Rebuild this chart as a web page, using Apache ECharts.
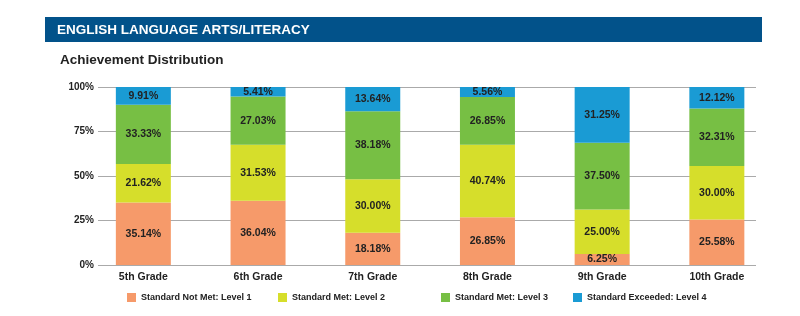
<!DOCTYPE html>
<html>
<head>
<meta charset="utf-8">
<script src="https://cdn.jsdelivr.net/npm/echarts@6/dist/echarts.min.js"></script>
<style>
html,body{margin:0;padding:0;background:#fff;}
#chart{width:800px;height:316px;}
</style>
</head>
<body>
<div id="chart"></div>
<script>
const categories = ['5th Grade', '6th Grade', '7th Grade', '8th Grade', '9th Grade', '10th Grade'];
const seriesNames = ['Standard Not Met: Level 1', 'Standard Met: Level 2', 'Standard Met: Level 3', 'Standard Exceeded: Level 4'];
const level1 = [35.14, 36.04, 18.18, 26.85, 6.25, 25.58];
const level2 = [21.62, 31.53, 30.00, 40.74, 25.00, 30.00];
const level3 = [33.33, 27.03, 38.18, 26.85, 37.50, 32.31];
const level4 = [9.91, 5.41, 13.64, 5.56, 31.25, 12.12];
const yTicks = [0, 25, 50, 75, 100];
const headerText = 'ENGLISH LANGUAGE ARTS/LITERACY';
const subtitleText = 'Achievement Distribution';

const colors = ['#F69A6A', '#D6DE2B', '#77BF44', '#1A9BD4'];
const font = 'Liberation Sans, Arial, Helvetica, sans-serif';
const values = [level1, level2, level3, level4];
const legendLefts = [127, 278, 441, 573];

const chart = echarts.init(document.getElementById('chart'), null, {renderer: 'canvas'});
const option = {
  animation: false,
  graphic: [{
    type: 'rect', left: 45, top: 17, z: 0,
    shape: {width: 717, height: 25},
    style: {fill: '#02528A'}
  }],
  title: [
    {text: headerText, left: 57, top: 23, padding: 0,
     textStyle: {color: '#fff', fontFamily: font, fontWeight: 'bold', fontSize: 13.5}},
    {text: subtitleText, left: 60, top: 53.5, padding: 0,
     textStyle: {color: '#222', fontFamily: font, fontWeight: 'bold', fontSize: 13.5}}
  ],
  legend: seriesNames.map((n, i) => ({
    data: [n], left: legendLefts[i], top: 293, padding: 0,
    itemWidth: 9, itemHeight: 9, icon: 'rect',
    textStyle: {color: '#222', fontFamily: font, fontWeight: 'bold', fontSize: 9}
  })),
  grid: [
    {left: 98, right: 44, top: 87, bottom: 51},
    {left: 86, right: 25.8, top: 87, bottom: 51}
  ],
  xAxis: [
    {gridIndex: 0, type: 'category', data: categories, show: false},
    {gridIndex: 1, type: 'category', data: categories,
     axisLine: {show: false}, axisTick: {show: false},
     axisLabel: {margin: 7, color: '#222', fontFamily: font, fontWeight: 'bold', fontSize: 10.5}}
  ],
  yAxis: [
    {gridIndex: 0, type: 'value', min: yTicks[0], max: yTicks[yTicks.length - 1], interval: 25,
     axisLine: {show: false}, axisTick: {show: false},
     splitLine: {lineStyle: {color: '#AAAAAA', width: 1}},
     axisLabel: {margin: 4, color: '#222', fontFamily: font, fontWeight: 'bold', fontSize: 10,
                 formatter: v => v + '%'}},
    {gridIndex: 1, type: 'value', min: 0, max: 100, show: false, splitLine: {show: false}}
  ],
  series: seriesNames.map((n, i) => ({
    name: n, type: 'bar', stack: 'total',
    xAxisIndex: 1, yAxisIndex: 1,
    barWidth: 55,
    itemStyle: {color: colors[i]},
    data: values[i],
    label: {show: true, position: 'inside', color: '#222', fontFamily: font,
            fontWeight: 'bold', fontSize: 10.5,
            formatter: p => p.value.toFixed(2) + '%'}
  }))
};
chart.setOption(option);
</script>
</body>
</html>
